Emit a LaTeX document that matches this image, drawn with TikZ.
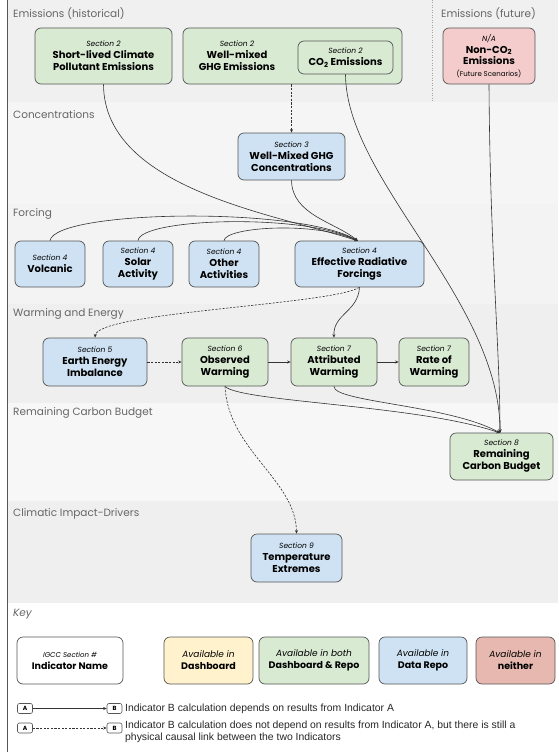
\documentclass[tikz,border=0pt]{standalone}
\usepackage{fontspec}
\setmainfont{Poppins}
\newfontfamily\keyfont{Liberation Sans}
\usetikzlibrary{arrows.meta}
\definecolor{edgecol}{HTML}{555555}
\definecolor{linecol}{HTML}{333333}
\definecolor{gfill}{HTML}{D9EAD3}
\definecolor{bfill}{HTML}{CFE2F3}
\definecolor{rfill}{HTML}{F4CCCC}
\definecolor{kred}{HTML}{E6B8AF}
\definecolor{yfill}{HTML}{FFF2CC}
\definecolor{labcol}{HTML}{666666}
\definecolor{bandA}{HTML}{F0F0F0}
\definecolor{bandB}{HTML}{F5F5F5}
\definecolor{bandC}{HTML}{F3F3F3}
\definecolor{bandD}{HTML}{EFEFEF}
\definecolor{bandE}{HTML}{F7F7F7}
\newcommand{\secl}[1]{{\fontsize{7.5}{12}\selectfont\itshape #1}}
\newcommand{\ttl}[1]{{\fontsize{10}{12}\selectfont\bfseries #1}}
\newcommand{\kttl}[1]{{\fontsize{9.5}{12}\selectfont\bfseries #1}}
\begin{document}
\begin{tikzpicture}[x=1pt,y=-1pt,
  box/.style={draw=edgecol, line width=0.7pt, rounded corners=6pt, align=center, inner sep=0pt,
    font=\fontsize{10}{12}\selectfont},
  bandlabel/.style={anchor=west, text=labcol, font=\fontsize{10.5}{12}\selectfont, inner sep=0pt},
  dep/.style={-{Stealth[length=3.5pt,width=3pt]}, draw=linecol, line width=0.6pt},
  phys/.style={dep, dash pattern=on 2.2pt off 1.4pt},
  mini/.style={draw=edgecol, line width=0.6pt, rounded corners=2pt, minimum width=15pt, minimum height=10pt,
    inner sep=0pt, font=\fontsize{6}{7}\selectfont\bfseries},
  keytext/.style={anchor=west, inner sep=0pt, align=left, font=\keyfont\fontsize{10.4}{12}\selectfont, text=black!85}
  ]
\useasboundingbox (0,0) rectangle (558,752);
% bands
\fill[bandA] (7,0) rectangle (558,102);
\fill[bandB] (7,102) rectangle (558,204);
\fill[bandC] (7,204) rectangle (558,304);
\fill[bandD] (7,304) rectangle (558,403);
\fill[bandE] (7,403) rectangle (558,501);
\fill[bandD] (7,501) rectangle (558,603);
\draw[edgecol, line width=0.8pt] (7,0) -- (7,752);
\draw[gray!70, line width=0.6pt, dash pattern=on 1pt off 1.5pt] (432,0) -- (432,101);
% band labels
\node[bandlabel] (lemh) at (13,14) {Emissions (historical)};
\node[bandlabel] (lemf) at (441,14) {Emissions (future)};
\node[bandlabel] (lconc) at (13,115) {Concentrations};
\node[bandlabel] (lforc) at (13,214) {Forcing};
\node[bandlabel] (lwarm) at (13,314) {Warming and Energy};
\node[bandlabel] (lrcb) at (13,413) {Remaining Carbon Budget};
\node[bandlabel] (lcid) at (13,514) {Climatic Impact-Drivers};
\node[bandlabel, font=\fontsize{10.5}{12}\selectfont\itshape] (lkey) at (13,614) {Key};
% emissions
\node[box, fill=gfill, minimum width=137pt, minimum height=56pt] (slcp) at (103.5,56)
  {\secl{Section 2}\\\ttl{Short-lived Climate}\\\ttl{Pollutant Emissions}};
\node[box, fill=gfill, minimum width=219pt, minimum height=56pt] (wmghg) at (292.5,56) {};
\node[align=center, inner sep=0pt, font=\fontsize{10}{12}\selectfont] (wmghgt) at (237,56)
  {\secl{Section 2}\\\ttl{Well-mixed}\\\ttl{GHG Emissions}};
\node[box, fill=gfill, minimum width=95pt, minimum height=33pt] (co2) at (345.5,57.5)
  {\secl{Section 2}\\\ttl{CO\textsubscript{2} Emissions}};
\node[box, fill=rfill, minimum width=92pt, minimum height=56pt, font=\fontsize{10}{11.5}\selectfont] (nonco2) at (489,56)
  {\secl{N/A}\\\ttl{Non-CO\textsubscript{2}}\\\ttl{Emissions}\\{\fontsize{7}{11}\selectfont(Future Scenarios)}};
% concentrations
\node[box, fill=bfill, minimum width=107pt, minimum height=47pt] (conc) at (291.5,156.5)
  {\secl{Section 3}\\\ttl{Well-Mixed GHG}\\\ttl{Concentrations}};
% forcing
\node[box, fill=bfill, minimum width=70pt, minimum height=46pt] (volc) at (50,264)
  {\secl{Section 4}\\\ttl{Volcanic}};
\node[box, fill=bfill, minimum width=70pt, minimum height=46pt] (solar) at (138,264)
  {\secl{Section 4}\\\ttl{Solar}\\\ttl{Activity}};
\node[box, fill=bfill, minimum width=70pt, minimum height=46pt] (other) at (224,264)
  {\secl{Section 4}\\\ttl{Other}\\\ttl{Activities}};
\node[box, fill=bfill, minimum width=129pt, minimum height=46pt] (erf) at (359.5,264)
  {\secl{Section 4}\\\ttl{Effective Radiative}\\\ttl{Forcings}};
% warming
\node[box, fill=bfill, minimum width=104pt, minimum height=48pt] (eei) at (95,362)
  {\secl{Section 5}\\\ttl{Earth Energy}\\\ttl{Imbalance}};
\node[box, fill=gfill, minimum width=86pt, minimum height=48pt] (obs) at (225,362)
  {\secl{Section 6}\\\ttl{Observed}\\\ttl{Warming}};
\node[box, fill=gfill, minimum width=86pt, minimum height=48pt] (attr) at (334,362)
  {\secl{Section 7}\\\ttl{Attributed}\\\ttl{Warming}};
\node[box, fill=gfill, minimum width=70pt, minimum height=48pt] (rate) at (434,362)
  {\secl{Section 7}\\\ttl{Rate of}\\\ttl{Warming}};
% RCB
\node[box, fill=gfill, minimum width=103pt, minimum height=47pt] (rcb) at (501.5,456.5)
  {\secl{Section 8}\\\ttl{Remaining}\\\ttl{Carbon Budget}};
% CID
\node[box, fill=bfill, minimum width=91pt, minimum height=48pt] (temp) at (296.5,558)
  {\secl{Section 9}\\\ttl{Temperature}\\\ttl{Extremes}};
% connectors
\coordinate (erfin) at (358,241);
\coordinate (rcbin) at (500,433);
\draw[dep] (slcp.south) .. controls (104,190) and (280,215) .. (erfin);
\draw[phys] (wmghg.south -| conc.north) -- (conc.north);
\draw[dep] (conc.south) .. controls (292,215) and (335,222) .. (erfin);
\draw[dep] (volc.north) .. controls (55,210) and (300,206) .. (erfin);
\draw[dep] (solar.north) .. controls (140,218) and (305,213) .. (erfin);
\draw[dep] (other.north) .. controls (225,227) and (315,221) .. (erfin);
\draw[dep] (co2.south) .. controls (346,180) and (500,300) .. (rcbin);
\draw[dep] (nonco2.south) .. controls (490,250) and (500,350) .. (rcbin);
\draw[dep] (erf.south) .. controls (358,312) and (333,314) .. (attr.north);
\draw[phys] (erf.south) .. controls (330,305) and (97,312) .. (eei.north);
\draw[phys] (eei.east) -- (obs.west);
\draw[dep] (obs.east) -- (attr.west);
\draw[dep] (attr.east) -- (rate.west);
\draw[dep] (obs.south) .. controls (240,402) and (420,405) .. (rcbin);
\draw[dep] (attr.south) .. controls (333,402) and (450,405) .. (rcbin);
\draw[phys] (obs.south) .. controls (228,450) and (296,480) .. (temp.north);
% key boxes
\node[box, fill=white, minimum width=106pt, minimum height=47pt] (kwhite) at (70,660.5)
  {{\fontsize{7}{11}\selectfont\itshape IGCC Section \#}\\\kttl{Indicator Name}};
\node[box, fill=yfill, minimum width=89pt, minimum height=47pt] (kyellow) at (208.5,660.5)
  {{\fontsize{9}{12}\selectfont\itshape Available in}\\\kttl{Dashboard}};
\node[box, fill=gfill, minimum width=110pt, minimum height=47pt] (kgreen) at (314,660.5)
  {{\fontsize{9}{12}\selectfont\itshape Available in both}\\\kttl{Dashboard \& Repo}};
\node[box, fill=bfill, minimum width=88pt, minimum height=47pt] (kblue) at (423,660.5)
  {{\fontsize{9}{12}\selectfont\itshape Available in}\\\kttl{Data Repo}};
\node[box, fill=kred, minimum width=79pt, minimum height=47pt] (kred) at (515.5,660.5)
  {{\fontsize{9}{12}\selectfont\itshape Available in}\\\kttl{neither}};
% legend arrows
\node[mini] (a1) at (25,708.5) {A};
\node[mini] (b1) at (114.5,708.5) {B};
\draw[dep] (a1.east) -- (b1.west);
\node[keytext] (t1) at (125,708.5) {Indicator B calculation depends on results from Indicator A};
\node[mini] (a2) at (25,728) {A};
\node[mini] (b2) at (114.5,728) {B};
\draw[phys] (a2.east) -- (b2.west);
\node[keytext] (t2) at (125,731.5) {Indicator B calculation does not depend on results from Indicator A, but there is still a\\physical causal link between the two Indicators};
\end{tikzpicture}
\end{document}
